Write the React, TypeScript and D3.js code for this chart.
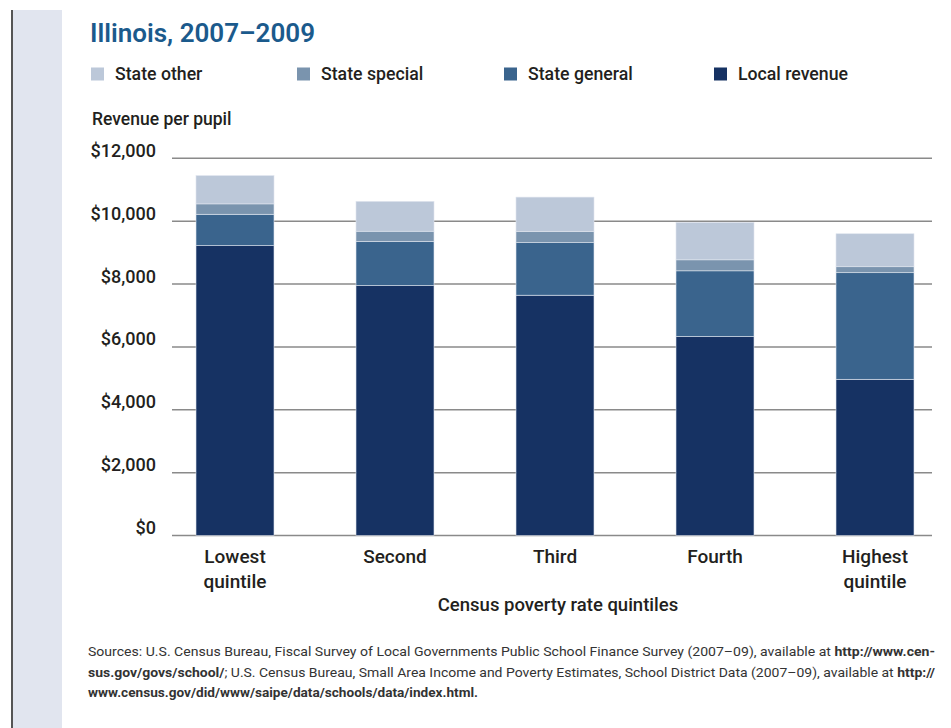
import React from "react";
import * as d3 from "d3";

const categories = ["Lowest quintile", "Second", "Third", "Fourth", "Highest quintile"];
const categoryLines = [["Lowest", "quintile"], ["Second"], ["Third"], ["Fourth"], ["Highest", "quintile"]];
const localRevenue = [9220, 7950, 7645, 6330, 4970];
const stateGeneral = [1000, 1410, 1670, 2090, 3390];
const stateSpecial = [330, 320, 360, 350, 190];
const stateOther = [900, 950, 1090, 1190, 1050];
const yTicks = [0, 2000, 4000, 6000, 8000, 10000, 12000];
const seriesKeys = ["local", "general", "special", "other"];
const seriesNames = ["Local revenue", "State general", "State special", "State other"];
const legendOrder = ["other", "special", "general", "local"];
const colors: Record<string, string> = {
  other: "#bcc8d9",
  special: "#7a94ae",
  general: "#3a648d",
  local: "#163263",
};

const W = 951;
const H = 728;
const FONT = "Roboto, 'Noto Sans', sans-serif";
const TEXT = "#231f20";

export default function App() {
  const rows = categories.map((c, i) => ({
    cat: c,
    local: localRevenue[i],
    general: stateGeneral[i],
    special: stateSpecial[i],
    other: stateOther[i],
  }));
  const stacked = d3.stack<any>().keys(seriesKeys)(rows);

  const x = d3
    .scaleBand<string>()
    .domain(categories)
    .range([155, 955])
    .paddingInner(0.5125)
    .paddingOuter(0.25625);
  const y = d3.scaleLinear().domain([0, 12000]).range([535.5, 158.3]);
  const fmt = (v: number) => "$" + d3.format(",")(v);

  const legendX = [91, 297, 504, 714];

  return (
    <svg
      width={W}
      height={H}
      style={{ position: "absolute", left: 0, top: 0, background: "#fff" }}
      fontFamily={FONT}
    >
      <rect x={0} y={0} width={W} height={H} fill="#fff" />
      <rect x={13} y={10} width={49} height={H - 10} fill="#e1e5ef" />
      <rect x={11} y={10} width={2} height={H - 10} fill="#555" />

      <text x={90} y={42} fontSize={26} fontWeight={600} fill="#1b5a8c" textLength={225} lengthAdjust="spacingAndGlyphs">
        Illinois, 2007–2009
      </text>

      {legendOrder.map((k, i) => (
        <g key={k}>
          <rect x={legendX[i]} y={67.5} width={13} height={13} fill={colors[k]} />
          <text x={legendX[i] + 24} y={80} fontSize={17.7} fontWeight={500} fill={TEXT}>
            {seriesNames[seriesKeys.indexOf(k)]}
          </text>
        </g>
      ))}

      <text x={92} y={125} fontSize={17.5} fontWeight={500} fill={TEXT}>
        Revenue per pupil
      </text>

      {yTicks.map((t) => (
        <g key={t}>
          <line x1={172} x2={932} y1={y(t)} y2={y(t)} stroke="#8a8a8a" strokeWidth={1.5} />
          <text x={156} y={y(t) - 1.5} textAnchor="end" fontSize={18} fontWeight={500} fill={TEXT}>
            {fmt(t)}
          </text>
        </g>
      ))}

      {stacked.map((s) => (
        <g key={s.key} fill={colors[s.key]}>
          {s.map((d, i) => (
            <rect
              key={i}
              x={x(categories[i])}
              y={y(d[1])}
              width={x.bandwidth()}
              height={y(d[0]) - y(d[1])}
              stroke="#dfe5ee"
              strokeWidth={0.6}
            />
          ))}
        </g>
      ))}

      {categories.map((c, i) => (
        <text
          key={c}
          x={(x(c) as number) + x.bandwidth() / 2}
          y={563}
          textAnchor="middle"
          fontSize={19}
          fontWeight={500}
          fill={TEXT}
        >
          {categoryLines[i].map((l, j) => (
            <tspan key={j} x={(x(c) as number) + x.bandwidth() / 2} dy={j === 0 ? 0 : 25}>
              {l}
            </tspan>
          ))}
        </text>
      ))}

      <text x={558} y={611} textAnchor="middle" fontSize={18.5} fontWeight={500} fill={TEXT}>
        Census poverty rate quintiles
      </text>

      <g fontSize={13} fill="#333">
        <text x={88} y={656} textLength={847} lengthAdjust="spacingAndGlyphs">
          Sources: U.S. Census Bureau, Fiscal Survey of Local Governments Public School Finance Survey (2007–09), available at{" "}
          <tspan fontWeight={700}>http://www.cen-</tspan>
        </text>
        <text x={88} y={677} textLength={847} lengthAdjust="spacingAndGlyphs">
          <tspan fontWeight={700}>sus.gov/govs/school/</tspan>; U.S. Census Bureau, Small Area Income and Poverty Estimates, School District Data (2007–09), available at{" "}
          <tspan fontWeight={700}>http://</tspan>
        </text>
        <text x={88} y={697} textLength={390} lengthAdjust="spacingAndGlyphs" fontWeight={700}>
          www.census.gov/did/www/saipe/data/schools/data/index.html.
        </text>
      </g>
    </svg>
  );
}
